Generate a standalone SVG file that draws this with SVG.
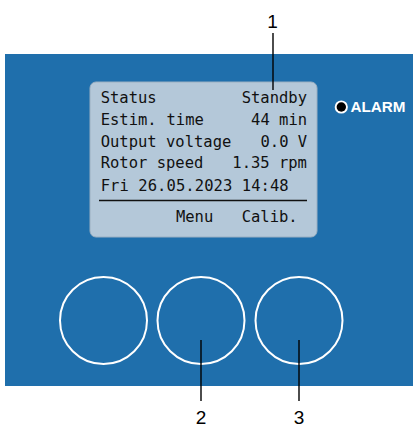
<svg xmlns="http://www.w3.org/2000/svg" width="413" height="428" viewBox="0 0 413 428">
<style>
.lcd{font-family:"DejaVu Sans Mono","Liberation Mono",monospace;font-size:15.5px;fill:#111}
.num{font-family:"Liberation Sans",Arial,sans-serif;font-size:19px;fill:#000;text-anchor:middle}
.btn{fill:none;stroke:#fff;stroke-width:2}
.lead{stroke:#000;stroke-width:1.4;fill:none}
</style>
<rect x="0" y="0" width="413" height="428" fill="#fff"/>
<g id="panel">
<rect x="5" y="54" width="408" height="332" fill="#1f6fac"/>
</g>
<g id="display">
<rect x="90" y="82" width="227" height="155" rx="6" fill="#b4c8d9" stroke="#9bb0c2" stroke-width="1"/>
<text class="lcd" x="100.7" y="103.3">Status</text>
<text class="lcd" x="241.7" y="103.3">Standby</text>
<text class="lcd" x="100.7" y="125">Estim.</text>
<text class="lcd" x="166.5" y="125">time</text>
<text class="lcd" x="251.1" y="125">44 min</text>
<text class="lcd" x="100.7" y="146.7">Output voltage</text>
<text class="lcd" x="260.5" y="146.7">0.0 V</text>
<text class="lcd" x="100.7" y="168.3">Rotor speed</text>
<text class="lcd" x="232.3" y="168.3">1.35 rpm</text>
<text class="lcd" x="100.7" y="190.5" textLength="188" lengthAdjust="spacing">Fri 26.05.2023 14:48</text>
<line x1="99" y1="200.5" x2="307" y2="200.5" stroke="#111" stroke-width="1.5"/>
<text class="lcd" x="175.9" y="221.7">Menu</text>
<text class="lcd" x="241.7" y="221.7">Calib.</text>
</g>
<g id="alarm">
<circle cx="341.3" cy="107" r="6.6" fill="#fff"/>
<circle cx="341.3" cy="107" r="4.7" fill="#000"/>
<text x="350.5" y="112.3" font-family="Liberation Sans,Arial,sans-serif" font-weight="bold" font-size="14.5" fill="#fff" textLength="55" lengthAdjust="spacingAndGlyphs">ALARM</text>
</g>
<g id="button1"><circle class="btn" cx="103.5" cy="320.5" r="43.5"/></g>
<g id="button2"><circle class="btn" cx="201" cy="320.5" r="43.5"/></g>
<g id="button3"><circle class="btn" cx="299" cy="320.5" r="43.5"/></g>
<g id="connectors">
<line class="lead" x1="273" y1="33" x2="273" y2="90"/>
<line class="lead" x1="201" y1="340" x2="201" y2="401"/>
<line class="lead" x1="299" y1="340" x2="299" y2="401"/>
</g>
<g id="labels">
<text class="num" x="272.5" y="28.3">1</text>
<text class="num" x="201" y="424">2</text>
<text class="num" x="299" y="424">3</text>
</g>
</svg>
